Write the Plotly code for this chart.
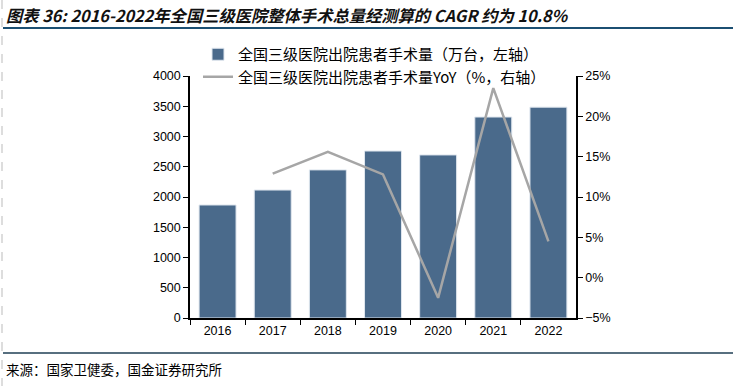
import plotly.graph_objects as go

years = ["2016", "2017", "2018", "2019", "2020", "2021", "2022"]
volume = [1868, 2115, 2448, 2760, 2695, 3322, 3485]
yoy_years = ["2017", "2018", "2019", "2020", "2021", "2022"]
yoy = [12.9, 15.6, 12.8, -2.5, 23.5, 4.5]

W, H = 733, 386
def px(x): return x / W
def py(y): return 1 - y / H

fig = go.Figure()
fig.add_trace(go.Bar(
    x=years, y=volume, name="全国三级医院出院患者手术量（万台，左轴）",
    marker=dict(color="#4a6a8b", line=dict(color="#dfe6ee", width=1)),
    legendgroup="a",
))
fig.add_trace(go.Scatter(
    x=yoy_years, y=yoy, yaxis="y2", mode="lines",
    name="全国三级医院出院患者手术量YoY（%，右轴）",
    line=dict(color="#a6a6a6", width=2.5),
    legendgroup="b",
))

tickfont = dict(family="Liberation Sans, Arial", size=12.5, color="#000")
fig.update_layout(
    width=W, height=H,
    margin=dict(l=0, r=0, t=0, b=0, autoexpand=False),
    paper_bgcolor="white", plot_bgcolor="white",
    bargap=0.33,
    showlegend=True,
    legend=dict(x=px(198), y=py(38), xanchor="left", yanchor="top",
                font=dict(family="Noto Sans CJK SC", size=15, color="#000"),
                bgcolor="rgba(0,0,0,0)", tracegroupgap=0, itemwidth=30),
    xaxis=dict(domain=[px(190), px(576)], type="category",
               showline=True, linecolor="#000", linewidth=1.5,
               ticks="outside", ticklen=5, tickcolor="#000", tickson="boundaries",
               tickfont=tickfont, showgrid=False, automargin=False),
    yaxis=dict(domain=[py(318), py(76)], range=[0, 4000], dtick=500,
               showline=True, linecolor="#000", linewidth=1.5,
               ticks="outside", ticklen=5, tickcolor="#000",
               tickfont=tickfont, showgrid=False, zeroline=False, automargin=False),
    yaxis2=dict(overlaying="y", side="right", anchor="x", range=[-5, 25], dtick=5,
                ticksuffix="%", showline=True, linecolor="#000", linewidth=1.5,
                ticks="outside", ticklen=5, tickcolor="#000",
                tickfont=tickfont, showgrid=False, zeroline=False, automargin=False),
)

fig.add_annotation(x=px(4), y=py(15), xref="paper", yref="paper", xanchor="left", yanchor="middle",
                   showarrow=False,
                   text="<b><i>图表 36: 2016-2022年全国三级医院整体手术总量经测算的 CAGR 约为 10.8%</i></b>",
                   font=dict(family="Noto Sans CJK SC", size=16.3, color="#111"))
fig.add_annotation(x=px(4), y=py(369), xref="paper", yref="paper", xanchor="left", yanchor="middle",
                   showarrow=False, text="来源：国家卫健委，国金证券研究所",
                   font=dict(family="Noto Sans CJK SC", size=13.5, color="#000"))

fig.add_shape(type="line", xref="paper", yref="paper", x0=px(3), x1=px(733), y0=py(28), y1=py(28),
              line=dict(color="#1b4f72", width=2))
fig.add_shape(type="line", xref="paper", yref="paper", x0=px(3), x1=px(733), y0=py(353), y1=py(353),
              line=dict(color="#1f3f55", width=1.5))
fig.add_shape(type="line", xref="paper", yref="paper", x0=px(2), x1=px(2), y0=py(0), y1=py(386),
              line=dict(color="#bbbbbb", width=1, dash="dash"))

fig.write_html("out.html", config={"displayModeBar": False},
               post_script="document.body.style.margin='0';document.body.style.padding='0';")
